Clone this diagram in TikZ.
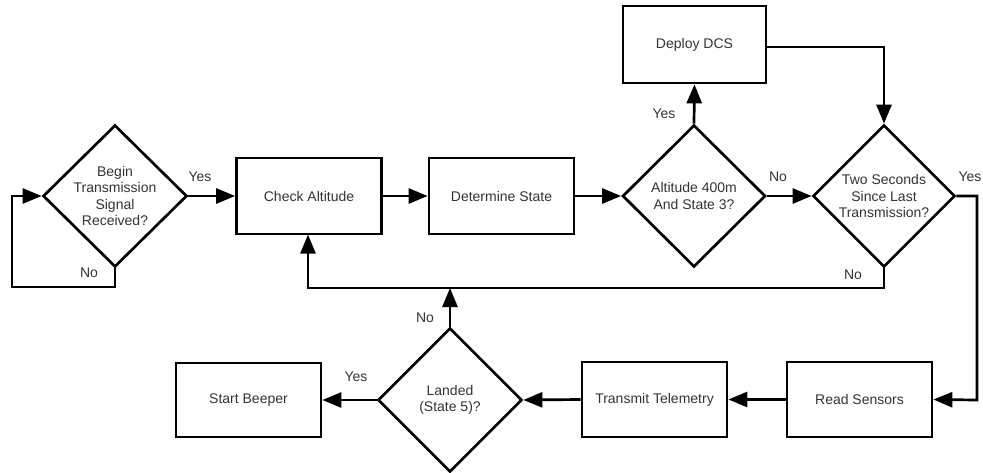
\documentclass[tikz,border=0pt]{standalone}
\usepackage{fontspec}
\setmainfont{Liberation Sans}
\usetikzlibrary{shapes.geometric,arrows.meta}
\tikzset{
  every picture/.style={x=1pt,y=-1pt},
  flow/.style={line width=2.7pt,-{Triangle[length=19pt,width=15pt]}},
  procbox/.style={draw,line width=2.7pt,rectangle,minimum width=145pt,minimum height=76pt,inner sep=0pt,font=\fontsize{14}{16}\selectfont,text=black!80},
  decision/.style={draw,line width=2.7pt,diamond,aspect=1,minimum width=144pt,minimum height=142pt,inner sep=0pt},
  dtext/.style={align=center,font=\fontsize{14}{16.5}\selectfont,text=black!80},
  lab/.style={font=\fontsize{14}{16}\selectfont,text=black!80,inner sep=0pt}
}
\begin{document}
\begin{tikzpicture}[line join=miter]
\useasboundingbox (0,0) rectangle (983,472);
% nodes
\node[decision] (d1) at (115,196) {};
\node[dtext] (d1t) at (115,196) {Begin\\Transmission\\Signal\\Received?};
\node[procbox] (ca) at (309,196) {Check Altitude};
\node[procbox] (ds) at (501.5,196) {Determine State};
\node[decision,minimum width=143pt] (d2) at (694,196) {};
\node[dtext] (d2t) at (694,196) {Altitude 400m\\And State 3?};
\node[procbox,minimum width=143pt,minimum height=77pt] (dcs) at (694.5,44.5) {Deploy DCS};
\node[decision,minimum width=142pt] (d3) at (884,196) {};
\node[dtext] (d3t) at (884,196) {Two Seconds\\Since Last\\Transmission?};
\node[procbox,minimum height=75pt] (rs) at (859.5,399.5) {Read Sensors};
\node[procbox,minimum height=75pt] (tt) at (654.5,399.5) {Transmit Telemetry};
\node[decision,minimum height=144pt] (d4) at (450,400) {};
\node[dtext] (d4t) at (450,400) {Landed\\(State 5)?};
\node[procbox,minimum height=74pt] (sb) at (248.5,400) {Start Beeper};
% helper coordinates
\coordinate (loopa) at (115,287);
\coordinate (loopb) at (12,287);
\coordinate (loopc) at (12,196);
\coordinate (dcsr) at (766,47);
\coordinate (dcsc) at (884,47);
\coordinate (ya) at (977,196);
\coordinate (yb) at (977,400);
\coordinate (fa) at (884,288);
\coordinate (fb) at (308,288);
\coordinate (fc) at (308,234.5);
\coordinate (fl) at (450,288);
% connectors
\draw[flow] (d1.east) -- (ca.west);
\draw[flow] (d1.south) -- (loopa) -- (loopb) -- (loopc) -- (d1.west);
\draw[flow] (ca.east) -- (ds.west);
\draw[flow] (ds.east) -- (d2.west);
\draw[flow] (d2.north) -- (dcs.south);
\draw[flow] (d2.east) -- (d3.west);
\draw[flow] (dcsr) -- (dcsc) -- (d3.north);
\draw[flow] (d3.east) -- (ya) -- (yb) -- (rs.east);
\draw[flow] (d3.south) -- (fa) -- (fb) -- (fc);
\draw[flow] (rs.west) -- (tt.east);
\draw[flow] (tt.west) -- (d4.east);
\draw[flow] (d4.north) -- (fl);
\draw[flow] (d4.west) -- (sb.east);
% labels
\node[lab] (l1) at (200,177) {Yes};
\node[lab] (l2) at (89,273) {No};
\node[lab] (l3) at (664,114) {Yes};
\node[lab] (l4) at (778,177) {No};
\node[lab] (l5) at (970,177) {Yes};
\node[lab] (l6) at (853,275) {No};
\node[lab] (l7) at (425,318) {No};
\node[lab] (l8) at (356,377) {Yes};
\end{tikzpicture}
\end{document}
